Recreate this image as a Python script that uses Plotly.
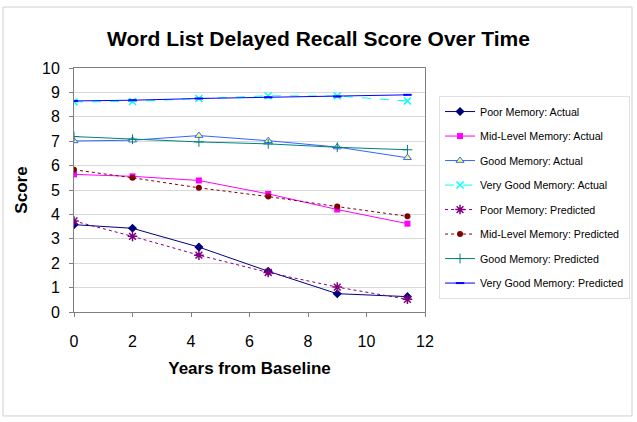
import plotly.graph_objects as go

years = [0, 2, 4.27, 6.64, 9.0, 11.4]

poor_actual = [3.58, 3.43, 2.66, 1.67, 0.75, 0.63]
mid_actual = [5.64, 5.56, 5.39, 4.84, 4.20, 3.62]
good_actual = [7.01, 7.04, 7.23, 7.02, 6.76, 6.32]
verygood_actual = [8.61, 8.63, 8.75, 8.86, 8.85, 8.65]
poor_pred = [3.73, 3.10, 2.33, 1.62, 1.02, 0.52]
mid_pred = [5.83, 5.50, 5.09, 4.73, 4.32, 3.92]
good_pred = [7.19, 7.08, 6.97, 6.89, 6.75, 6.65]
verygood_pred = [8.65, 8.68, 8.75, 8.80, 8.83, 8.90]

series_names = [
    "Poor Memory: Actual",
    "Mid-Level Memory: Actual",
    "Good Memory: Actual",
    "Very Good Memory: Actual",
    "Poor Memory: Predicted",
    "Mid-Level Memory: Predicted",
    "Good Memory: Predicted",
    "Very Good Memory: Predicted",
]
series_values = [poor_actual, mid_actual, good_actual, verygood_actual,
                 poor_pred, mid_pred, good_pred, verygood_pred]

styles = [
    dict(line=dict(color="#000080", width=1),
         marker=dict(symbol="diamond", size=7, color="#000080")),
    dict(line=dict(color="#FF00FF", width=1),
         marker=dict(symbol="square", size=6, color="#FF00FF")),
    dict(line=dict(color="#3366FF", width=1),
         marker=dict(symbol="triangle-up", size=7, color="#FFFF66",
                     line=dict(color="#3366FF", width=1))),
    dict(line=dict(color="#00FFFF", width=1, dash="dash"),
         marker=dict(symbol="x-thin", size=7, color="#00FFFF",
                     line=dict(color="#00FFFF", width=1.5))),
    dict(line=dict(color="#800080", width=1, dash="dot"),
         marker=dict(symbol="asterisk", size=8, color="#800080",
                     line=dict(color="#800080", width=1.5))),
    dict(line=dict(color="#800000", width=1, dash="dot"),
         marker=dict(symbol="circle", size=6, color="#800000")),
    dict(line=dict(color="#008080", width=1),
         marker=dict(symbol="cross-thin", size=7, color="#008080",
                     line=dict(color="#008080", width=1))),
    dict(line=dict(color="#0000FF", width=1),
         marker=dict(symbol="line-ew", size=6, color="#0000FF",
                     line=dict(color="#0000FF", width=2))),
]

fig = go.Figure()
for i, (name, vals, st) in enumerate(zip(series_names, series_values, styles)):
    fig.add_trace(go.Scatter(x=years, y=vals, mode="lines+markers", name=name,
                             legendgroup=str(i), **st))

font_fam = "Arial, Liberation Sans, sans-serif"

fig.update_layout(
    width=637, height=422,
    margin=dict(l=74, r=212, t=68, b=110, autoexpand=False),
    paper_bgcolor="white", plot_bgcolor="white",
    font=dict(family=font_fam, color="black"),
    title=dict(text="<b>Word List Delayed Recall Score Over Time</b>",
               font=dict(size=21, family=font_fam, color="black"),
               x=0.5, xref="container", xanchor="center",
               y=1 - 39 / 422, yref="container", yanchor="middle"),
    xaxis=dict(range=[0, 12], dtick=2, tick0=0, automargin=False,
               showgrid=False, zeroline=False,
               showline=True, linecolor="#808080", linewidth=1, mirror=True,
               ticks="outside", ticklen=4, tickcolor="#808080",
               tickfont=dict(size=16), ticklabelstandoff=11,
               title=dict(text="<b>Years from Baseline</b>", font=dict(size=17), standoff=12)),
    yaxis=dict(range=[0, 10], dtick=1, tick0=0, automargin=False,
               showgrid=True, gridcolor="#D9D9D9", gridwidth=1, zeroline=False,
               showline=True, linecolor="#808080", linewidth=1, mirror=True,
               ticks="outside", ticklen=4, tickcolor="#808080",
               tickfont=dict(size=16), ticklabelstandoff=6,
               title=dict(text="<b>Score</b>", font=dict(size=17), standoff=10)),
    legend=dict(x=1.04, y=0.885, xanchor="left", yanchor="top",
                font=dict(size=10.7, family=font_fam),
                bgcolor="white", bordercolor="#E0E0E0", borderwidth=1,
                tracegroupgap=5.5, itemwidth=30),
    shapes=[dict(type="rect", xref="paper", yref="paper",
                 x0=-0.2023, x1=1.5897, y0=-0.426, y1=1.25,
                 line=dict(color="#D0D0D0", width=1), fillcolor="rgba(0,0,0,0)",
                 layer="below")],
)

fig.write_html("out.html", config={"displayModeBar": False},
               post_script="document.body.style.margin='0';")
